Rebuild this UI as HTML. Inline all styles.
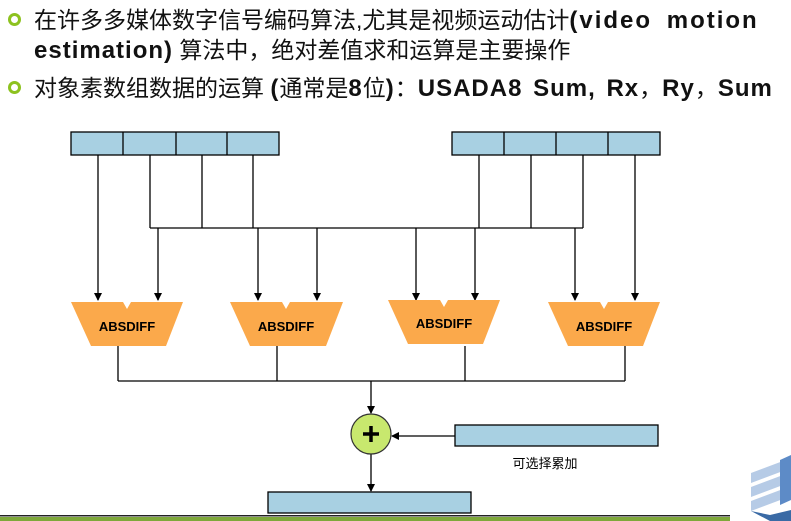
<!DOCTYPE html>
<html><head><meta charset="utf-8"><style>
body{margin:0;width:791px;height:521px;overflow:hidden;background:#fff;font-family:"Liberation Sans","Noto Sans CJK SC",sans-serif;position:relative}
.t{position:absolute;left:34px;font-size:23px;color:#111;white-space:nowrap;line-height:28px}
.t b{font-weight:bold;font-size:24px;letter-spacing:1px;word-spacing:3px}
.l1 b{letter-spacing:2px;word-spacing:6px}
.bul{position:absolute;left:8px;width:7px;height:7px;border:3px solid #8dc21f;border-radius:50%}
</style></head><body>
<div class="bul" style="top:13px"></div>
<div class="bul" style="top:81px"></div>
<div class="t l1" style="top:6px">在许多多媒体数字信号编码算法,尤其是视频运动估计<b>(video motion</b></div>
<div class="t" style="top:36px"><b>estimation)</b> 算法中，绝对差值求和运算是主要操作</div>
<div class="t" style="top:74px">对象素数组数据的运算 <b>(</b>通常是<b>8</b>位<b>)</b>：<b>USADA8 Sum, Rx</b>，<b>Ry</b>，<b>Sum</b></div>
<svg width="791" height="521" style="position:absolute;left:0;top:0">
<defs><marker id="a" markerWidth="8" markerHeight="8" refX="7" refY="4" orient="auto" markerUnits="userSpaceOnUse"><path d="M0,0 L8,4 L0,8z" fill="#000"/></marker></defs>
<g fill="#a8d0e2" stroke="#000" stroke-width="1.3">
<rect x="71" y="132" width="208" height="23"/><rect x="452" y="132" width="208" height="23"/>
<rect x="455" y="425" width="203" height="21"/><rect x="268" y="492" width="203" height="21"/>
</g>
<g stroke="#000" stroke-width="1.3" fill="none">
<path d="M123 132V155M176 132V155M227 132V155M504 132V155M556 132V155M608 132V155"/>
<path d="M150 155V228M202 155V228M253 155V228M479 155V228M531 155V228M583 155V228M150 228H583"/>
<path d="M98 155V300" marker-end="url(#a)"/><path d="M635 155V300" marker-end="url(#a)"/>
<path d="M158 228V300" marker-end="url(#a)"/><path d="M258 228V300" marker-end="url(#a)"/>
<path d="M317 228V300" marker-end="url(#a)"/><path d="M416 228V300" marker-end="url(#a)"/>
<path d="M475 228V300" marker-end="url(#a)"/><path d="M575 228V300" marker-end="url(#a)"/>
<path d="M118 346V381M277 346V381M465 346V381M625 346V381M118 381H625"/>
<path d="M371 381V413" marker-end="url(#a)"/>
<path d="M455 436H392" marker-end="url(#a)"/>
<path d="M371 454V491" marker-end="url(#a)"/>
</g>
<g fill="#fba94b">
<path d="M71 302H123L127 309L131 302H183L166 346H91Z"/>
<path d="M230 302H282L286 309L290 302H343L326 346H250Z"/>
<path d="M388 300H440L444 307L448 300H500L483 344H408Z"/>
<path d="M548 302H600L604 309L608 302H660L643 346H568Z"/>
</g>
<g font-size="13" font-weight="bold" text-anchor="middle" fill="#000">
<text x="127" y="331">ABSDIFF</text><text x="286" y="331">ABSDIFF</text>
<text x="444" y="328">ABSDIFF</text><text x="604" y="331">ABSDIFF</text>
</g>
<circle cx="371" cy="434" r="20" fill="#c8e86e" stroke="#333" stroke-width="1.2"/>
<path d="M371 426V442M363 434H379" stroke="#000" stroke-width="3.5"/>
<text x="545" y="468" font-size="13" text-anchor="middle" font-family="Noto Sans CJK SC,sans-serif" fill="#000">可选择累加</text>
<rect x="0" y="515" width="730" height="1.5" fill="#222"/>
<rect x="0" y="517" width="730" height="4" fill="#7ea83a"/>
<path d="M751 473L791 458V468L751 483Z" fill="#b6cbe6"/>
<path d="M751 487L791 472V482L751 497Z" fill="#b6cbe6"/>
<path d="M751 501L791 486V496L751 511Z" fill="#b6cbe6"/>
<path d="M751 511L770 521H791V510L770 515Z" fill="#3a6aa5"/>
<path d="M780 460L791 455V500L780 505Z" fill="#5d8bc7"/>
</svg>
</body></html>
